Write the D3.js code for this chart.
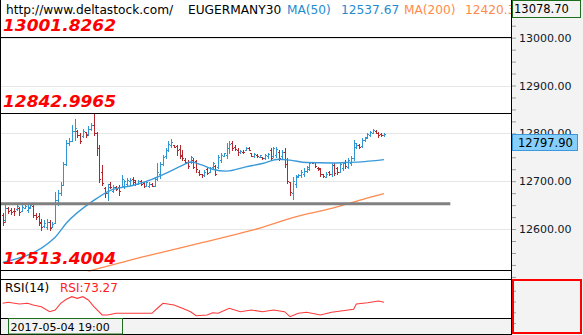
<!DOCTYPE html>
<html><head><meta charset="utf-8">
<script src="https://cdn.jsdelivr.net/npm/d3@7"></script>
<style>html,body{margin:0;padding:0;background:#fff;overflow:hidden}</style>
</head><body><div id="chart"></div>
<script>
// ---------- DATA (hourly OHLC bars) ----------
const opens = [12630,12618,12645,12640,12638,12641,12645,12638,12645,12640,
12645,12648,12630,12628,12615,12606,12605,12615,12605,12612,
12660,12675,12692,12735,12780,12785,12805,12805,12797,12795,
12802,12798,12810,12818,12800,12770,12720,12685,12675,12695,
12680,12688,12688,12688,12690,12695,12700,
12705,12702,12695,12700,12697,12690,12690,12695,
12690,12704,12715,12735,12752,12765,12775,
12775,12773,12768,12755,12745,12740,12740,12745,12742,12720,12715,
12712,12725,12720,12730,12732,12730,12745,12752,12755,12770,
12780,12772,12766,12760,12762,12765,12770,12758,12752,12755,
12751,12750,12748,12752,12765,12752,12755,12762,12752,
12762,12735,12698,12675,
12695,12710,12712,12715,12722,12725,
12740,12740,12728,12727,12715,12709,12720,12715,12734,12728,12720,12727,12740,12730,12738,
12748,
12772,12775,12774,12786,12793,12797,12801,
12805,12801,12799,12796];
const highs = [12633,12654,12647,12645,12643,12652,12647,12650,12652,12650,
12655,12650,12633,12633,12622,12618,12622,12618,12615,12678,
12681,12699,12741,12786,12790,12817,12831,12807,12800,12810,
12803,12815,12822,12843,12803,12776,12734,12688,12695,12699,
12692,12689,12692,12713,12703,12706,12706,
12709,12703,12702,12702,12698,12700,12698,12696,
12706,12737,12741,12755,12769,12783,12788,
12776,12776,12776,12765,12748,12745,12752,12748,12745,12723,12716,
12723,12728,12730,12741,12734,12755,12759,12759,12779,12783,
12783,12776,12769,12765,12765,12772,12772,12759,12758,12756,
12755,12750,12757,12759,12769,12772,12772,12765,12765,
12769,12748,12699,12709,
12713,12716,12723,12727,12732,12741,
12741,12741,12730,12728,12716,12720,12721,12737,12737,12730,12739,12741,12744,12748,12752,
12786,
12779,12777,12790,12793,12800,12805,12809,
12807,12803,12800,12800];
const lows = [12608,12615,12633,12632,12630,12640,12630,12637,12643,12636,
12643,12626,12622,12608,12598,12605,12601,12598,12604,12612,
12650,12671,12692,12734,12776,12783,12786,12793,12779,12793,
12793,12796,12807,12797,12755,12699,12692,12667,12660,12685,
12678,12682,12671,12688,12685,12692,12692,
12695,12692,12694,12692,12688,12690,12688,12689,
12690,12702,12706,12734,12748,12763,12772,
12771,12755,12748,12745,12737,12727,12738,12727,12720,12713,12709,
12710,12716,12719,12727,12713,12727,12741,12752,12748,12759,
12765,12765,12755,12759,12759,12765,12765,12752,12751,12751,
12750,12747,12747,12748,12745,12750,12750,12745,12748,
12729,12696,12671,12663,
12688,12709,12709,12711,12720,12723,
12737,12730,12723,12711,12709,12709,12713,12711,12713,12716,12720,12723,12727,12727,12734,
12745,
12769,12769,12772,12783,12790,12795,12800,
12800,12793,12795,12795];
const closes = [12615,12645,12638,12636,12637,12648,12635,12646,12648,12646,
12651,12630,12625,12612,12605,12613,12615,12602,12611,12660,
12675,12692,12735,12780,12785,12805,12812,12797,12785,12805,
12796,12810,12818,12800,12770,12705,12697,12675,12688,12688,
12688,12684,12680,12705,12700,12702,12703,
12698,12695,12700,12694,12690,12698,12695,12691,
12704,12720,12735,12750,12765,12778,12782,
12772,12765,12752,12748,12740,12732,12750,12730,12725,12716,12712,
12720,12718,12727,12738,12715,12750,12755,12758,12770,12778,
12770,12768,12760,12763,12760,12770,12766,12753,12756,12752,
12754,12748,12755,12757,12748,12769,12768,12748,12760,
12735,12700,12678,12700,
12708,12714,12720,12722,12730,12738,
12738,12732,12725,12715,12711,12716,12715,12734,12718,12720,12735,12738,12732,12745,12748,
12780,
12776,12772,12786,12790,12798,12802,12806,
12801,12796,12797,12797.9];

// Moving averages sampled at bar index
const ma50Idx = [0,19,23,33,39,47,54,60,65,68,72,76,81,88,94,100,104,110,119,124,131,138];
const ma50Val = [12530,12583,12612,12660,12681,12691,12704,12719,12733,12740,12734,12725,12721,12730,12737,12746,12744,12739,12738,12739,12741,12745];
const ma200Idx = [31,53,71,90,107,119,129,138];
const ma200Val = [12512,12545,12570,12597,12627,12643,12660,12674];

// RSI(14) sampled at bar index
const rsiIdx = [0,2,6,9,11,14,17,19,21,23,25,27,29,31,33,36,38,41,45,50,54,56,58,62,65,68,70,74,76,78,82,86,90,94,98,102,104,107,110,115,119,127,128,132,136,138];
const rsiVal = [70.8,73.1,69.2,70.8,66.9,63,51.4,55.3,70.8,80.1,86.1,82.4,86.1,78.5,63,43.8,43.8,47.7,47.7,47.7,47.7,59.3,70.8,66.9,59.3,51.4,42.1,43.8,49.1,47.7,59.3,51.4,55.3,51.4,55.3,51.4,39.8,47.7,50,43.8,50,56.9,69.2,72.2,76.2,73.27];

// Horizontal objects
const levelPrices = [13001.8262, 12842.9965, 12513.4004];
const levelLabels = ["13001.8262", "12842.9965", "12513.4004"];
const supportPrice = 12653;
const supportEndIdx = 162;

const axisMajor = [12600, 12700, 12800, 12900, 13000];
const axisTickStep = 25;
const rsiTicks = [25, 50, 75, 100];
const topPrice = "13078.70";
const lastPrice = 12797.9;
const lastPriceLabel = "12797.90";
const timeLabel = "2017-05-04 19:00";
const header = {site: "http://www.deltastock.com/", symbol: "EUGERMANY30",
  ma50Name: "MA(50)", ma50Value: "12537.67", ma200Name: "MA(200)", ma200Value: "12420.38"};
const rsiName = "RSI(14)", rsiLabel = "RSI:73.27";

// ---------- CHART ----------
const W = 583, H = 335, PR = 512, MAINB = 279, RSIB = 318;
const svg = d3.select("#chart").append("svg").attr("width", W).attr("height", H)
  .style("font-family", "'DejaVu Sans', Verdana, sans-serif");
svg.append("rect").attr("width", W).attr("height", H).attr("fill", "#fff");

const N = opens.length;
const x = d3.scaleLinear().domain([0, N - 1]).range([2.7, 384]);
const y = d3.scaleLinear().domain([12495.6, 13078.7]).range([MAINB, 0]);
const yr = d3.scaleLinear().domain([0, 100]).range([333.9, 290.7]);

const defs = svg.append("defs");
defs.append("clipPath").attr("id", "cmain").append("rect").attr("x", 0).attr("y", 0).attr("width", PR).attr("height", MAINB);
defs.append("clipPath").attr("id", "crsi").append("rect").attr("x", 0).attr("y", MAINB + 1).attr("width", PR).attr("height", RSIB - MAINB - 1);
defs.append("clipPath").attr("id", "chdr").append("rect").attr("x", 0).attr("y", 0).attr("width", PR - 1).attr("height", 20);

const main = svg.append("g").attr("clip-path", "url(#cmain)");

// grid
main.selectAll("line.grid").data(axisMajor).join("line")
  .attr("x1", 0).attr("x2", PR)
  .attr("y1", d => Math.round(y(d)) + 0.5).attr("y2", d => Math.round(y(d)) + 0.5)
  .attr("stroke", "#e6e6e6").attr("stroke-width", 1);

// bars
const bars = main.append("g").attr("shape-rendering", "crispEdges");
d3.range(N).forEach(i => {
  const xc = Math.round(x(i));
  const col = closes[i] >= opens[i] ? "#2e96d4" : "#b3262b";
  const yh = Math.round(y(highs[i])), yl = Math.round(y(lows[i]));
  bars.append("rect").attr("x", xc).attr("y", yh).attr("width", 1).attr("height", Math.max(1, yl - yh + 1)).attr("fill", col);
  bars.append("rect").attr("x", xc - 1).attr("y", Math.round(y(opens[i]))).attr("width", 1).attr("height", 1).attr("fill", col);
  bars.append("rect").attr("x", xc + 1).attr("y", Math.round(y(closes[i]))).attr("width", 1).attr("height", 1).attr("fill", col);
});

// moving averages
const lineGen = d3.line().x(d => x(d[0])).y(d => y(d[1])).curve(d3.curveMonotoneX);
main.append("path").datum(ma200Idx.map((d, i) => [d, ma200Val[i]]))
  .attr("d", lineGen).attr("fill", "none").attr("stroke", "#ff8a50").attr("stroke-width", 1.3);
main.append("path").datum(ma50Idx.map((d, i) => [d, ma50Val[i]]))
  .attr("d", lineGen).attr("fill", "none").attr("stroke", "#3a9ad9").attr("stroke-width", 1.4);

// support trendline
main.append("line").attr("x1", 0).attr("x2", x(supportEndIdx))
  .attr("y1", y(supportPrice)).attr("y2", y(supportPrice))
  .attr("stroke", "#808080").attr("stroke-width", 3);

// level lines
main.selectAll("line.lvl").data(levelPrices).join("line")
  .attr("x1", 0).attr("x2", PR)
  .attr("y1", d => Math.round(y(d)) + 0.5).attr("y2", d => Math.round(y(d)) + 0.5)
  .attr("stroke", "#000").attr("stroke-width", 1);
main.selectAll("text.lvl").data(levelPrices).join("text")
  .attr("x", 3).attr("y", d => Math.round(y(d)) - 6)
  .attr("fill", "#ff0000").attr("font-size", 15).attr("font-weight", "bold").attr("font-style", "italic")
  .attr("textLength", 113).attr("lengthAdjust", "spacingAndGlyphs")
  .text((d, i) => levelLabels[i]);

// header
const hdr = svg.append("g").attr("font-size", 12.2).attr("clip-path", "url(#chdr)");
hdr.append("text").attr("x", 6).attr("y", 13.5).attr("fill", "#000").text(header.site);
hdr.append("text").attr("x", 188).attr("y", 13.5).attr("fill", "#000").text(header.symbol);
hdr.append("text").attr("x", 287).attr("y", 13.5).attr("fill", "#1f8bd0").text(header.ma50Name);
hdr.append("text").attr("x", 341).attr("y", 13.5).attr("fill", "#1f8bd0").text(header.ma50Value);
hdr.append("text").attr("x", 404).attr("y", 13.5).attr("fill", "#ff8a4a").text(header.ma200Name);
hdr.append("text").attr("x", 465).attr("y", 13.5).attr("fill", "#ff8a4a").text(header.ma200Value);

// separators
svg.append("line").attr("x1", 0).attr("x2", PR).attr("y1", MAINB + 0.5).attr("y2", MAINB + 0.5).attr("stroke", "#000");

// RSI pane
const rsiG = svg.append("g").attr("clip-path", "url(#crsi)");
rsiG.append("path").datum(rsiIdx.map((d, i) => [d, rsiVal[i]]))
  .attr("d", d3.line().x(d => x(d[0])).y(d => yr(d[1])))
  .attr("fill", "none").attr("stroke", "#ff3b3b").attr("stroke-width", 1.1);
svg.append("text").attr("x", 5).attr("y", 291.5).attr("font-size", 12).attr("fill", "#000").text(rsiName);
svg.append("text").attr("x", 60).attr("y", 291.5).attr("font-size", 12).attr("fill", "#ff2020").text(rsiLabel);

// time axis
svg.append("rect").attr("x", 0).attr("y", RSIB).attr("width", PR).attr("height", H - RSIB).attr("fill", "#f3f3f3");
svg.append("line").attr("x1", 0).attr("x2", PR).attr("y1", RSIB + 0.5).attr("y2", RSIB + 0.5).attr("stroke", "#000");
svg.append("line").attr("x1", 0).attr("x2", PR).attr("y1", H - 0.5).attr("y2", H - 0.5).attr("stroke", "#000");
svg.append("rect").attr("x", 8.5).attr("y", RSIB + 0.5).attr("width", 114).attr("height", 15.5)
  .attr("fill", "none").attr("stroke", "#1c6e1c");
svg.append("text").attr("x", 10.5).attr("y", 331).attr("font-size", 11).attr("fill", "#000").text(timeLabel);

// left border
svg.append("line").attr("x1", 0.5).attr("x2", 0.5).attr("y1", 0).attr("y2", H).attr("stroke", "#000");

// right axis
svg.append("rect").attr("x", PR).attr("y", 0).attr("width", W - PR).attr("height", H).attr("fill", "#f3f3f3");
svg.append("line").attr("x1", PR - 0.5).attr("x2", PR - 0.5).attr("y1", 0).attr("y2", H).attr("stroke", "#000");

const tickVals = d3.range(12500, 13076, axisTickStep);
const axG = svg.append("g").attr("transform", `translate(${PR},0)`)
  .call(d3.axisRight(y).tickValues(tickVals).tickSize(4).tickPadding(3)
    .tickFormat(d => axisMajor.includes(d) ? d3.format(".2f")(d) : ""));
axG.select(".domain").remove();
axG.selectAll(".tick line").attr("stroke", "#9a9a9a");
axG.selectAll(".tick text").attr("font-size", 11).attr("fill", "#0d1a2b").attr("font-family", "'DejaVu Sans', Verdana, sans-serif");

const rAx = svg.append("g").attr("transform", `translate(${PR},0)`)
  .call(d3.axisRight(yr).tickValues(rsiTicks).tickSize(4).tickFormat(""));
rAx.select(".domain").remove();
rAx.selectAll(".tick line").attr("stroke", "#9a9a9a");

// top price box
svg.append("rect").attr("x", PR + 0.5).attr("y", 0.5).attr("width", 68).attr("height", 17)
  .attr("fill", "#f3f3f3").attr("stroke", "#1c6e1c");
svg.append("text").attr("x", PR + 2).attr("y", 13).attr("font-size", 11.5).attr("fill", "#000").text(topPrice);

// last price box
const yl = Math.round(y(lastPrice));
svg.append("rect").attr("x", PR + 0.5).attr("y", yl + 0.5).attr("width", 65).attr("height", 16)
  .attr("fill", "#87cefa").attr("stroke", "#3b98db");
svg.append("text").attr("x", PR + 6).attr("y", yl + 12.5).attr("font-size", 11.5).attr("fill", "#000").text(lastPriceLabel);

// red box over rsi axis
svg.append("rect").attr("x", PR + 1).attr("y", MAINB + 1).attr("width", 68).attr("height", 53)
  .attr("fill", "none").attr("stroke", "#ff0000").attr("stroke-width", 2);
</script>
</body></html>
